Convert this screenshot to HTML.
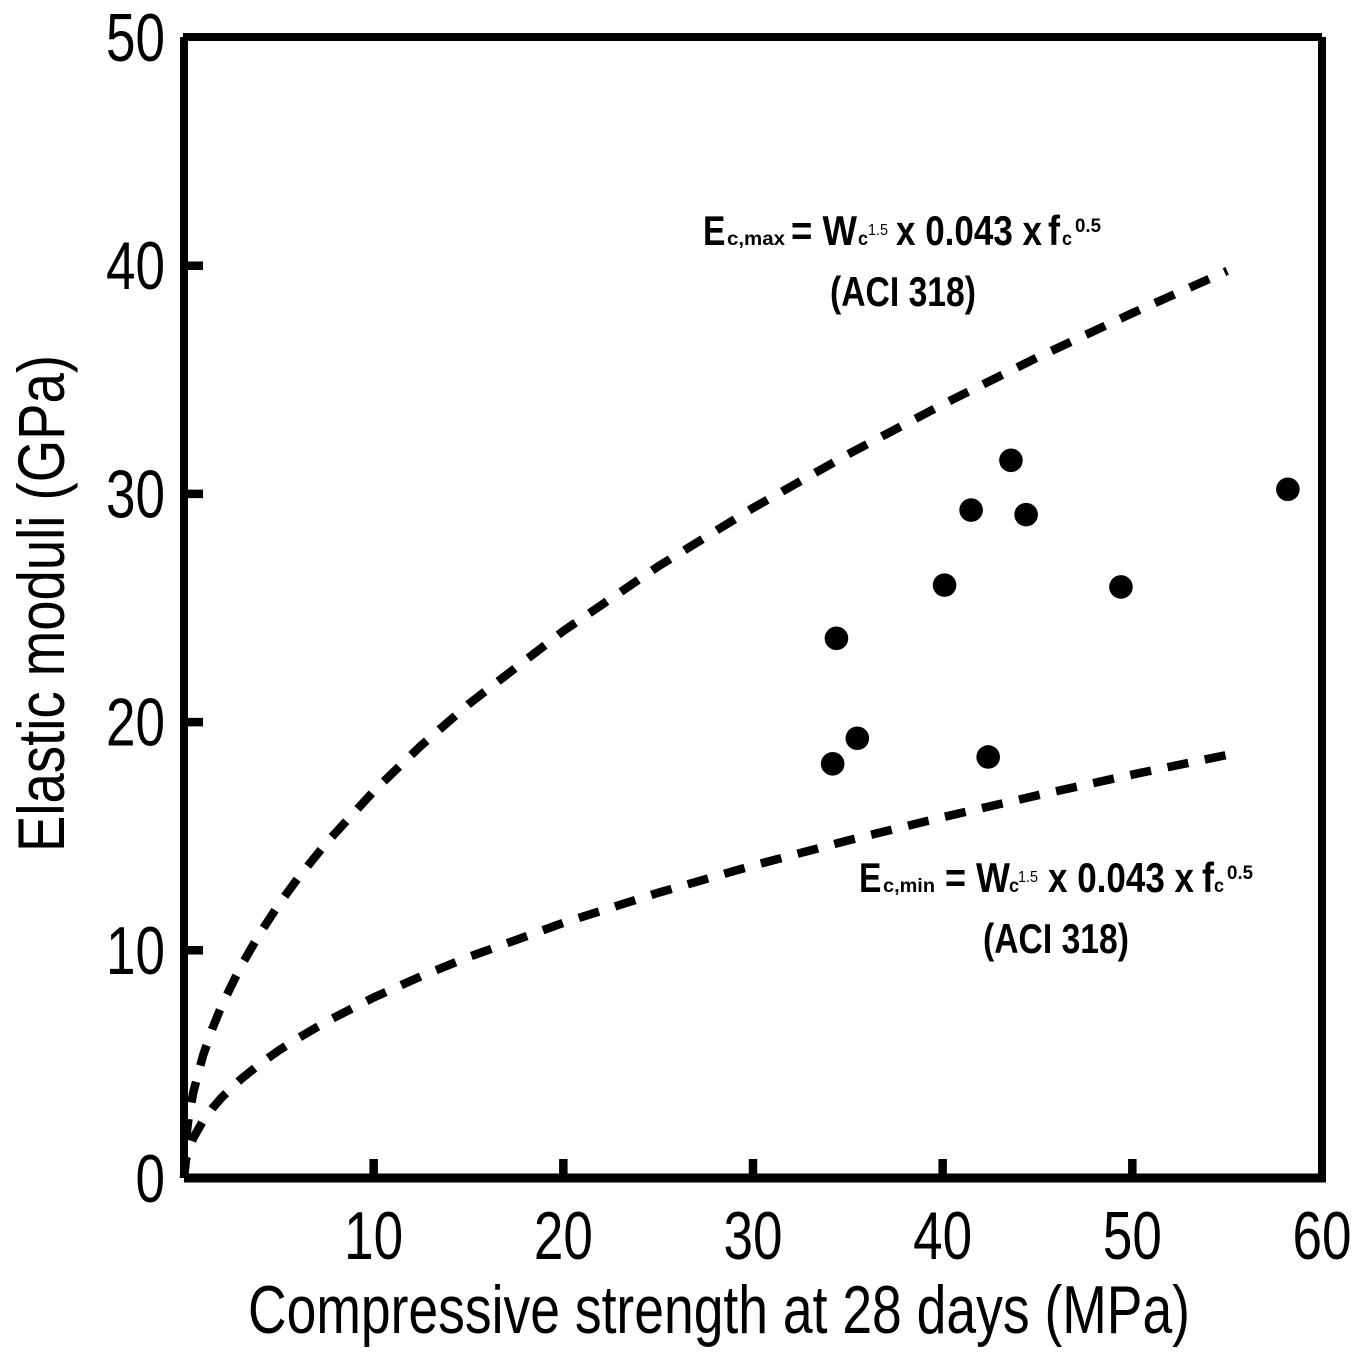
<!DOCTYPE html>
<html lang="en">
<head>
<meta charset="utf-8">
<title>Elastic moduli vs compressive strength</title>
<style>
html,body{margin:0;padding:0;background:#fff}
svg{display:block}
text{font-family:"Liberation Sans",Arial,sans-serif;fill:#000}
.b{font-weight:bold}
</style>
</head>
<body>
<svg id="chart" xmlns="http://www.w3.org/2000/svg" width="1358" height="1356" viewBox="0 0 1358 1356">
<rect width="1358" height="1356" fill="#fff"/>
<g id="curves"></g>
<g id="points"></g>
<g id="axes"></g>
<g class="b">
<text transform="translate(703,245) scale(.8,1)" font-size="42">E</text>
<text x="727" y="245" font-size="19" textLength="58" lengthAdjust="spacingAndGlyphs">c,max</text>
<text x="791" y="245" font-size="42" textLength="66" lengthAdjust="spacingAndGlyphs">= W</text>
<text x="858" y="245" font-size="19" textLength="10" lengthAdjust="spacingAndGlyphs">c</text>
<text x="868" y="235" font-size="16" font-weight="normal" textLength="20" lengthAdjust="spacingAndGlyphs">1.5</text>
<text x="896" y="245" font-size="42" textLength="146" lengthAdjust="spacingAndGlyphs">x 0.043 x</text>
<text x="1048" y="245" font-size="42" textLength="12" lengthAdjust="spacingAndGlyphs">f</text>
<text x="1062" y="245" font-size="19" textLength="10" lengthAdjust="spacingAndGlyphs">c</text>
<text x="1075" y="232" font-size="19" textLength="26" lengthAdjust="spacingAndGlyphs">0.5</text>
<text x="830" y="306" font-size="42" textLength="146" lengthAdjust="spacingAndGlyphs">(ACI 318)</text>
</g>
<g class="b">
<text transform="translate(859,892) scale(.8,1)" font-size="42">E</text>
<text x="883" y="892" font-size="19" textLength="52" lengthAdjust="spacingAndGlyphs">c,min</text>
<text x="945" y="892" font-size="42" textLength="65" lengthAdjust="spacingAndGlyphs">= W</text>
<text x="1009" y="892" font-size="19" textLength="10" lengthAdjust="spacingAndGlyphs">c</text>
<text x="1018" y="882" font-size="16" font-weight="normal" textLength="20" lengthAdjust="spacingAndGlyphs">1.5</text>
<text x="1048" y="892" font-size="42" textLength="146" lengthAdjust="spacingAndGlyphs">x 0.043 x</text>
<text x="1202" y="892" font-size="42" textLength="12" lengthAdjust="spacingAndGlyphs">f</text>
<text x="1214" y="892" font-size="19" textLength="10" lengthAdjust="spacingAndGlyphs">c</text>
<text x="1227" y="879" font-size="19" textLength="26" lengthAdjust="spacingAndGlyphs">0.5</text>
<text x="983" y="953" font-size="42" textLength="146" lengthAdjust="spacingAndGlyphs">(ACI 318)</text>
</g>
</svg>
<script>
const xTicks = [10, 20, 30, 40, 50, 60];
const yTicks = [0, 10, 20, 30, 40, 50];
const xTickLabels = ["10", "20", "30", "40", "50", "60"];
const yTickLabels = ["0", "10", "20", "30", "40", "50"];
const curveX = [0, 0.1, 0.25, 0.5, 1, 1.5, 2, 3, 4, 5, 6, 7.5, 10, 12.5, 15, 20, 25, 30, 35, 40, 45, 50, 55];
const curveMax = [0, 1.69, 2.68, 3.79, 5.36, 6.56, 7.58, 9.28, 10.72, 11.99, 13.13, 14.68, 16.95, 18.95, 20.76, 23.97, 26.8, 29.36, 31.71, 33.9, 35.96, 37.9, 39.75];
const curveMin = [0, 0.79, 1.25, 1.77, 2.5, 3.06, 3.54, 4.33, 5.0, 5.59, 6.12, 6.85, 7.91, 8.84, 9.68, 11.18, 12.5, 13.69, 14.79, 15.81, 16.77, 17.68, 18.54];
const pointX = [43.6, 41.5, 44.4, 58.2, 40.1, 49.4, 34.4, 35.5, 34.2, 42.4];
const pointY = [31.45, 29.27, 29.07, 30.18, 25.98, 25.9, 23.65, 19.27, 18.15, 18.45];

const NS = 'http://www.w3.org/2000/svg';
const plot = { left: 184, right: 1322, top: 37, bottom: 1178 };
function sx(v) { return plot.left + v / 60 * (plot.right - plot.left); }
function sy(v) { return plot.bottom - v / 50 * (plot.bottom - plot.top); }
function make(tag, attrs, parent) {
  const el = document.createElementNS(NS, tag);
  for (const k in attrs) el.setAttribute(k, attrs[k]);
  parent.appendChild(el);
  return el;
}
const curves = document.getElementById('curves');
const pointsG = document.getElementById('points');
const axes = document.getElementById('axes');

function drawCurve(values, name) {
  const d = curveX.map((x, i) => (i ? 'L' : 'M') + sx(x).toFixed(2) + ' ' + sy(values[i]).toFixed(2)).join(' ');
  const p = make('path', { d: d, fill: 'none', stroke: '#000', 'stroke-width': 8.5, 'stroke-dasharray': '21.2 16.8', 'stroke-linejoin': 'round' }, curves);
  
  
}
drawCurve(curveMax, 'curve-e-max');
drawCurve(curveMin, 'curve-e-min');

pointX.forEach((x, i) => {
  const c = make('circle', { cx: sx(x), cy: sy(pointY[i]), r: 11.8, fill: '#000' }, pointsG);
  
  
});

function spine(x1, y1, x2, y2, w, name) {
  const s = make('line', { x1: x1, y1: y1, x2: x2, y2: y2, stroke: '#000', 'stroke-width': w }, axes);
  
  
}
spine(plot.left - 1, plot.top, plot.right, plot.top, 8, 'top-spine');
spine(plot.left, plot.top, plot.left, plot.bottom, 8, 'left-spine');
spine(plot.right, plot.top, plot.right, plot.bottom + 4, 8, 'right-spine');
spine(plot.left, plot.bottom, plot.right + 4, plot.bottom, 9, 'bottom-spine');

xTicks.forEach((v, i) => {
  if (v < 60) {
    const t = make('line', { x1: sx(v), x2: sx(v), y1: plot.bottom, y2: plot.bottom - 19, stroke: '#000', 'stroke-width': 8.5 }, axes);
    
    
  }
  const l = make('text', { transform: 'translate(' + sx(v) + ',1259) scale(.78,1)', 'font-size': 68, 'text-anchor': 'middle' }, axes);
  
  
  l.textContent = xTickLabels[i];
});
yTicks.forEach((v, i) => {
  if (v > 0 && v < 50) {
    const t = make('line', { x1: plot.left, x2: plot.left + 19, y1: sy(v) + 0.5, y2: sy(v) + 0.5, stroke: '#000', 'stroke-width': 8.5 }, axes);
    
    
  }
  const l = make('text', { transform: 'translate(165,' + (sy(v) + 24) + ') scale(.78,1)', 'font-size': 68, 'text-anchor': 'end' }, axes);
  
  
  l.textContent = yTickLabels[i];
});

const xTitle = make('text', { x: 248, y: 1333, 'font-size': 68, textLength: 942, lengthAdjust: 'spacingAndGlyphs' }, axes);


xTitle.textContent = 'Compressive strength at 28 days (MPa)';

const yTitle = make('text', { transform: 'translate(64,852) rotate(-90)', 'font-size': 66, textLength: 497, lengthAdjust: 'spacingAndGlyphs' }, axes);


yTitle.textContent = 'Elastic moduli (GPa)';
</script>
</body>
</html>
